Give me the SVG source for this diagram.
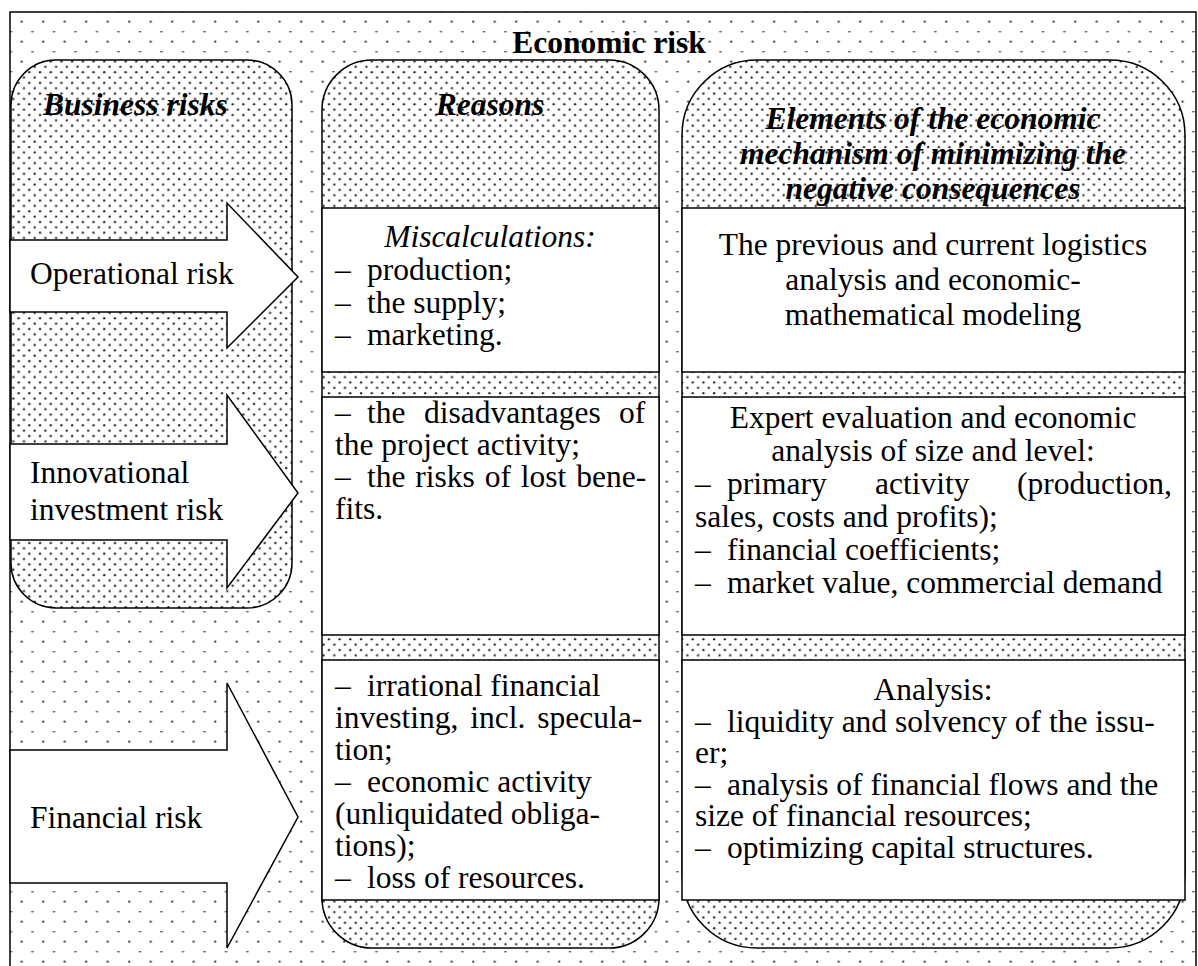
<svg xmlns="http://www.w3.org/2000/svg" width="1198" height="966" viewBox="0 0 1198 966">
<defs>
<pattern id="sparse" patternUnits="userSpaceOnUse" x="-5" y="-4" width="21.5" height="20">
<rect width="21.5" height="20" fill="#fff"/>
<circle cx="5.2" cy="5.7" r="1.15" fill="#3a3a3a"/>
<ellipse cx="15.95" cy="15.7" rx="1.5" ry="0.75" fill="#555"/>
</pattern>
<pattern id="dense" patternUnits="userSpaceOnUse" x="0" y="0" width="10.7" height="10.7">
<rect width="10.7" height="10.7" fill="#fff"/>
<circle cx="2.6" cy="2.6" r="1.15" fill="#222"/>
<circle cx="7.95" cy="7.95" r="1.15" fill="#222"/>
</pattern>
<style>
.t{font-family:"Liberation Serif","Times New Roman",serif;font-size:31.5px;fill:#000}
.b{font-weight:bold}
.bi{font-weight:bold;font-style:italic}
.i{font-style:italic}
.m{text-anchor:middle}
.frame{fill:url(#sparse);stroke:#000;stroke-width:1.5}
.dense{fill:url(#dense);stroke:#000;stroke-width:1.5}
.box{fill:#fff;stroke:#000;stroke-width:1.5}
.arrow{fill:#fff;stroke:#000;stroke-width:1.5;stroke-linejoin:miter}
</style>
</defs>

<g id="frame">
<rect class="frame" x="10" y="12" width="1186" height="980"/>
<text class="t b m" x="609" y="53">Economic risk</text>
</g>

<g id="business-risks">
<rect class="dense" x="11" y="60" width="281" height="548" rx="45" ry="45"/>
<text class="t bi" x="43" y="115">Business risks</text>
</g>

<g id="connectors">
<g id="operational-risk">
<polygon class="arrow" points="10,240 227,240 227,203 298,277 227,348 227,312 10,312"/>
<text class="t" x="30" y="284">Operational risk</text>
</g>
<g id="innovational-risk">
<polygon class="arrow" points="10,444 227,444 227,395 298,493 227,588 227,540 10,540"/>
<text class="t" x="30" y="483">Innovational</text>
<text class="t" x="30" y="520">investment risk</text>
</g>
<g id="financial-risk">
<polygon class="arrow" points="10,750 227,750 227,683 298,817 227,948 227,883 10,883"/>
<text class="t" x="30" y="828">Financial risk</text>
</g>
</g>

<g id="reasons">
<rect class="dense" x="322" y="60" width="337" height="888" rx="50" ry="50"/>
<text class="t bi m" x="490" y="115">Reasons</text>
</g>

<g id="reasons-1">
<rect class="box" x="322" y="208" width="337" height="164"/>
<text class="t i m" x="490" y="247">Miscalculations:</text>
<text class="t" y="280"><tspan x="335">–</tspan><tspan x="367">production;</tspan></text>
<text class="t" y="313"><tspan x="335">–</tspan><tspan x="367">the supply;</tspan></text>
<text class="t" y="345"><tspan x="335">–</tspan><tspan x="367">marketing.</tspan></text>
</g>

<g id="reasons-2">
<rect class="box" x="322" y="397" width="337" height="238"/>
<text class="t" y="423"><tspan x="335">–</tspan><tspan x="367">the</tspan><tspan x="424">disadvantages</tspan><tspan x="619">of</tspan></text>
<text class="t" x="335" y="455">the project activity;</text>
<text class="t" y="487"><tspan x="335">–</tspan><tspan x="367" word-spacing="2">the risks of lost bene-</tspan></text>
<text class="t" x="335" y="519">fits.</text>
</g>

<g id="reasons-3">
<rect class="box" x="322" y="660" width="337" height="240"/>
<text class="t" y="696"><tspan x="335">–</tspan><tspan x="367">irrational financial</tspan></text>
<text class="t" x="335" y="728" word-spacing="4">investing, incl. specula-</text>
<text class="t" x="335" y="760">tion;</text>
<text class="t" y="792"><tspan x="335">–</tspan><tspan x="367">economic activity</tspan></text>
<text class="t" x="335" y="824">(unliquidated obliga-</text>
<text class="t" x="335" y="856">tions);</text>
<text class="t" y="888"><tspan x="335">–</tspan><tspan x="367">loss of resources.</tspan></text>
</g>

<g id="elements">
<rect class="dense" x="682" y="60" width="503" height="888" rx="75" ry="75"/>
<text class="t bi m" x="933" y="129">Elements of the economic</text>
<text class="t bi m" x="933" y="164">mechanism of minimizing the</text>
<text class="t bi m" x="933" y="199">negative consequences</text>
</g>

<g id="elements-1">
<rect class="box" x="682" y="208" width="503" height="164"/>
<text class="t m" x="933" y="255">The previous and current logistics</text>
<text class="t m" x="933" y="290">analysis and economic-</text>
<text class="t m" x="933" y="325">mathematical modeling</text>
</g>

<g id="elements-2">
<rect class="box" x="682" y="397" width="503" height="238"/>
<text class="t m" x="933" y="428">Expert evaluation and economic</text>
<text class="t m" x="933" y="461">analysis of size and level:</text>
<text class="t" y="494"><tspan x="695">–</tspan><tspan x="727">primary</tspan><tspan x="875">activity</tspan><tspan x="1017">(production,</tspan></text>
<text class="t" x="695" y="527">sales, costs and profits);</text>
<text class="t" y="560"><tspan x="695">–</tspan><tspan x="727">financial coefficients;</tspan></text>
<text class="t" y="593"><tspan x="695">–</tspan><tspan x="727">market value, commercial demand</tspan></text>
</g>

<g id="elements-3">
<rect class="box" x="682" y="660" width="503" height="240"/>
<text class="t m" x="933" y="700">Analysis:</text>
<text class="t" y="731.5"><tspan x="695">–</tspan><tspan x="727">liquidity and solvency of the issu-</tspan></text>
<text class="t" x="695" y="763">er;</text>
<text class="t" y="794.5"><tspan x="695">–</tspan><tspan x="727">analysis of financial flows and the</tspan></text>
<text class="t" x="695" y="826">size of financial resources;</text>
<text class="t" y="857.5"><tspan x="695">–</tspan><tspan x="727">optimizing capital structures.</tspan></text>
</g>
</svg>
